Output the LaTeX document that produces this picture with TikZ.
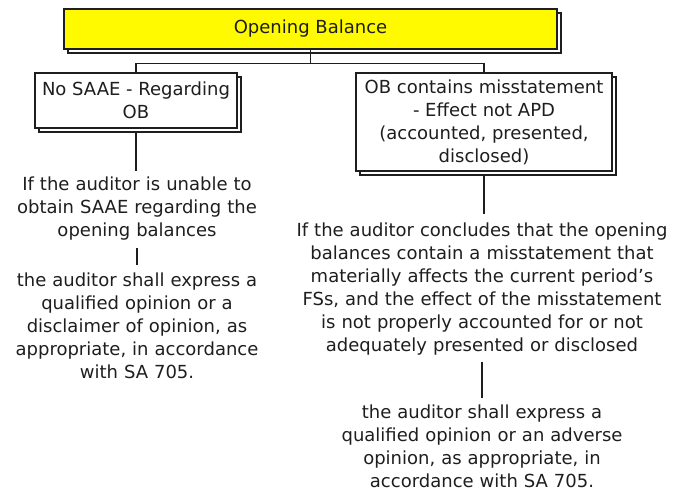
\documentclass[tikz,border=0pt]{standalone}
\usepackage{fontspec}
\setmainfont{DejaVu Sans}
\usetikzlibrary{positioning,shadows}
\definecolor{BoxYellow}{RGB}{255,250,0}
\definecolor{InkGray}{RGB}{30,30,30}

\begin{document}
\begin{tikzpicture}[x=1pt, y=-1pt,
    every node/.style={font=\fontsize{18}{23}\selectfont, align=center, text=InkGray},
    card/.style={draw=InkGray, line width=1.6pt, fill=white, inner sep=2pt,
      copy shadow={shadow xshift=4pt, shadow yshift=-4pt, draw=InkGray, fill=white, line width=1.6pt}},
    note/.style={inner sep=0pt, text width=420pt},
    link/.style={draw=InkGray, line width=1.3pt}]
  \useasboundingbox (0,0) rectangle (686,497);
  % header and the two cases
  \node[card, fill=BoxYellow, minimum width=493pt, minimum height=40pt] (ob) at (310.5,29) {Opening Balance};
  \node[card, minimum width=202pt, minimum height=55pt] (nosaae) at (136,100.5) {No SAAE - Regarding\\OB};
  \node[card, minimum width=256pt, minimum height=98pt] (misst) at (484,122) {OB contains misstatement\\- Effect not APD\\(accounted, presented,\\disclosed)};
  \draw[link] (ob.south) -- ++(0,14) coordinate (fork) -| (nosaae.north);
  \draw[link] (fork) -| (misst.north);
  % left branch
  \node[note] (unable) at (137,208.5) {If the auditor is unable to\\obtain SAAE regarding the\\opening balances};
  \node[note] (qualdisc) at (137,326) {the auditor shall express a\\qualified opinion or a\\disclaimer of opinion, as\\appropriate, in accordance\\with SA 705.};
  \draw[link, shorten <=4pt, shorten >=6pt] (nosaae.south) -- (nosaae.south |- unable.north);
  \draw[link, shorten <=8pt, shorten >=8pt] (unable.south) -- (unable.south |- qualdisc.north);
  % right branch
  \node[note] (concl) at (482,289.5) {If the auditor concludes that the opening\\balances contain a misstatement that\\materially affects the current period's\\FSs, and the effect of the misstatement\\is not properly accounted for or not\\adequately presented or disclosed};
  \node[note] (qualadv) at (482,446.5) {the auditor shall express a\\qualified opinion or an adverse\\opinion, as appropriate, in\\accordance with SA 705.};
  \draw[link, shorten <=4pt, shorten >=9pt] (misst.south) -- (misst.south |- concl.north);
  \draw[link, shorten <=6pt, shorten >=7pt] (concl.south) -- (concl.south |- qualadv.north);
\end{tikzpicture}
\end{document}
